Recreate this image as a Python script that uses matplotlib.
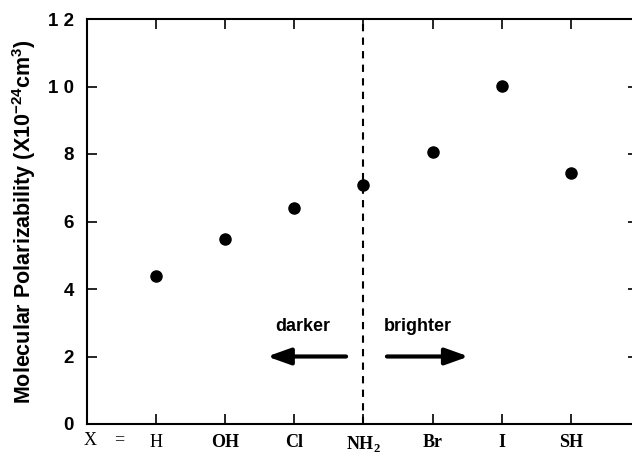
import matplotlib
matplotlib.use("Agg")
from matplotlib import pyplot as plt

# donnees
substituants = ["H", "OH", "Cl", "NH$_2$", "Br", "I", "SH"]
gras = [False, True, True, True, True, True, True]
polarisabilite = [4.40, 5.48, 6.40, 7.09, 8.06, 10.01, 7.43]
ticks_y = [0, 2, 4, 6, 8, 10, 12]
labels_y = ["0", "2", "4", "6", "8", "1 0", "1 2"]

plt.rcParams['mathtext.fontset'] = 'custom'
plt.rcParams['mathtext.rm'] = 'Liberation Serif:bold'
plt.rcParams['mathtext.sf'] = 'Liberation Sans:bold'

fig = plt.figure(figsize=(6.32, 4.62), dpi=100)
# axes legerement coupes a droite comme sur l'original
ax = fig.add_axes([86.5 / 632, 38 / 462, 551 / 632, 405 / 462])

positions = list(range(1, len(substituants) + 1))
ax.plot(positions, polarisabilite, 'o', color='black', ms=8, zorder=3)

# separation au niveau de NH2
ax.axvline(4, color='black', lw=1.5, ls=(0, (3.5, 3)), zorder=2)

# fleches
style = '-|>,head_length=1.4,head_width=0.5'
ax.annotate('', xy=(2.61, 2.0), xytext=(3.75, 2.0),
            arrowprops=dict(arrowstyle=style, color='black', lw=3, shrinkA=0, shrinkB=0))
ax.annotate('', xy=(5.52, 2.0), xytext=(4.34, 2.0),
            arrowprops=dict(arrowstyle=style, color='black', lw=3, shrinkA=0, shrinkB=0))
ax.text(3.13, 2.9, 'darker', ha='center', va='center', fontsize=13,
        fontweight='bold', family='Liberation Sans')
ax.text(4.78, 2.9, 'brighter', ha='center', va='center', fontsize=13,
        fontweight='bold', family='Liberation Sans')

ax.set_xlim(0, 7.96)
ax.set_ylim(0, 12)
ax.set_yticks(ticks_y)
ax.set_yticklabels(labels_y, fontsize=13.5, fontweight='bold', family='Liberation Sans')
ax.set_xticks(positions)
ax.set_xticklabels(substituants, fontsize=13, family='Liberation Serif')
for lab, g in zip(ax.get_xticklabels(), gras):
    lab.set_fontweight('bold' if g else 'normal')

ax.tick_params(direction='in', length=7, width=1.2, top=True, right=True, pad=7)
ax.tick_params(axis='y', pad=9)
for s in ax.spines.values():
    s.set_linewidth(1.5)

ax.text(-0.03, -0.5, 'X    =', fontsize=13, family='Liberation Serif',
        va='center', ha='left')

ax.set_ylabel('Molecular Polarizability (X10$\\mathsf{^{-24}}$cm$\\mathsf{^{3}}$)',
              fontsize=15.5, fontweight='bold', family='Liberation Sans')
ax.yaxis.set_label_coords(-0.088, 0.5)

fig.savefig('out.png', dpi=100)
